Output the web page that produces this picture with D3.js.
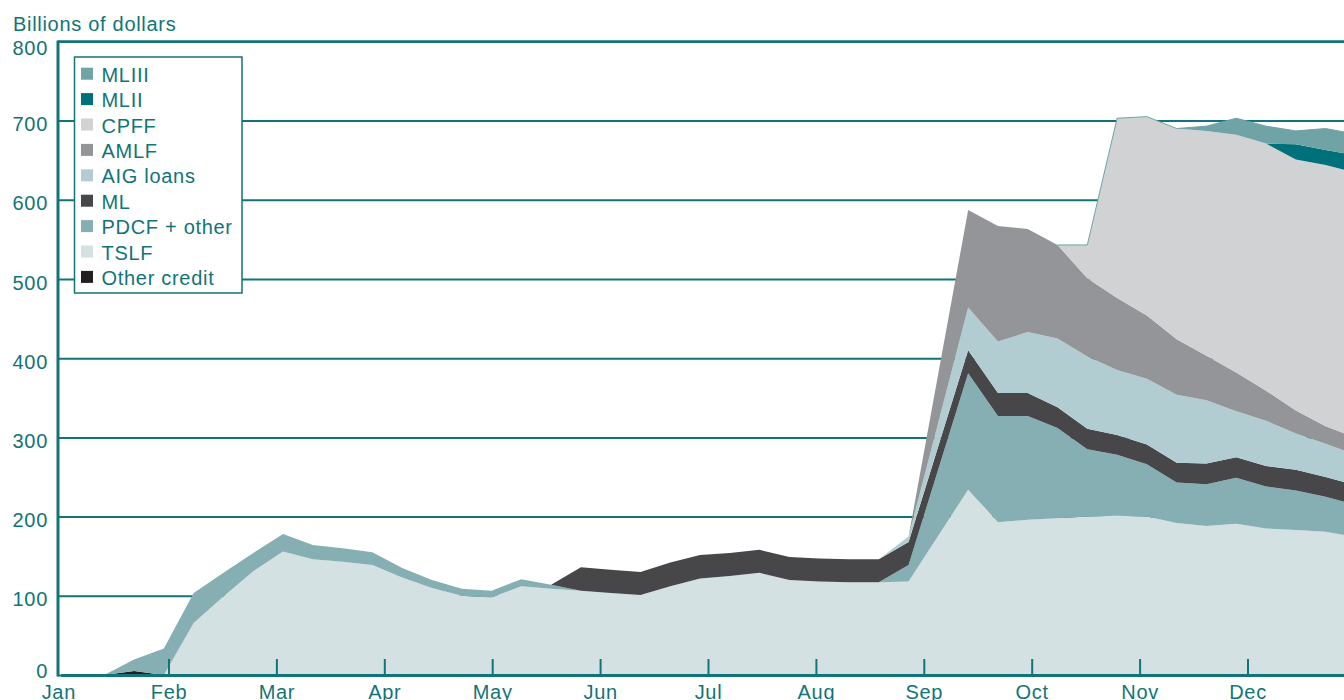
<!DOCTYPE html>
<html>
<head>
<meta charset="utf-8">
<script src="https://cdn.jsdelivr.net/npm/d3@7"></script>
<style>
  body { margin: 0; background: #fff; }
  svg { display: block; }
  text { font-family: "Liberation Sans", Arial, sans-serif; }
</style>
</head>
<body>
<div id="chart"></div>
<script>
// Month labels and y ticks
const months = ["Jan", "Feb", "Mar", "Apr", "May", "Jun", "Jul", "Aug", "Sep", "Oct", "Nov", "Dec"];
const yTicks = [0, 100, 200, 300, 400, 500, 600, 700, 800];

// Series, bottom of the stack first
const seriesNames = ["Other credit", "TSLF", "PDCF + other", "ML", "AIG loans", "AMLF", "CPFF", "MLII", "MLIII"];

const otherCredit = [0, 5, 0, 0, 0, 0, 0, 0, 0, 0,  0, 0, 0, 0, 0, 0, 0, 0, 0, 0,  0, 0, 0, 0, 0, 0, 0, 0, 0, 0,  0, 0, 0, 0, 0, 0, 0, 0, 0, 0,  0, 0, 0];
const tslf = [0, 0, 0, 65.5, 99, 131, 156, 146, 143, 139,  123, 110, 100, 98, 112, 109, 106.5, 103.5, 101, 112,  122, 125, 129, 120, 118, 117, 117, 118, 176, 234,  193, 196, 198, 200, 201, 200, 192, 188, 191, 185,  183, 181, 174];
const pdcf = [0, 14.5, 33.5, 38, 30, 23, 22, 18, 17, 16,  12, 10, 9, 8.5, 9, 5, 0, 0, 0, 0,  0, 0, 0, 0, 0, 0, 0, 21, 84, 147,  134, 131, 114, 85, 77, 66, 51, 53, 58, 53,  50, 44, 41];
const ml = [0, 0, 0, 0, 0, 0, 0, 0, 0, 0,  0, 0, 0, 0, 0, 0, 29.5, 29.5, 29, 30,  29.5, 29, 29, 29, 29, 29, 29, 29, 29, 29,  29, 29, 26, 26, 25, 25, 25, 26, 26, 26,  26, 25, 25];
const aig = [0, 0, 0, 0, 0, 0, 0, 0, 0, 0,  0, 0, 0, 0, 0, 0, 0, 0, 0, 0,  0, 0, 0, 0, 0, 0, 0, 7, 30, 54,  65, 77, 87, 91, 82, 83, 86, 80, 58, 57,  46, 42, 38];
const amlf = [0, 0, 0, 0, 0, 0, 0, 0, 0, 0,  0, 0, 0, 0, 0, 0, 0, 0, 0, 0,  0, 0, 0, 0, 0, 0, 0, 0, 62, 123,  146, 130, 118, 99, 91, 80, 70, 56, 49, 38,  29, 22, 22];
const cpff = [0, 0, 0, 0, 0, 0, 0, 0, 0, 0,  0, 0, 0, 0, 0, 0, 0, 0, 0, 0,  0, 0, 0, 0, 0, 0, 0, 0, 0, 0,  0, 0, 0, 42, 227, 251, 266, 284, 300, 312,  317, 330, 334];
const mlii = [0, 0, 0, 0, 0, 0, 0, 0, 0, 0,  0, 0, 0, 0, 0, 0, 0, 0, 0, 0,  0, 0, 0, 0, 0, 0, 0, 0, 0, 0,  0, 0, 0, 0, 0, 0, 0, 0, 0, 0,  19, 19, 22];
const mliii = [0, 0, 0, 0, 0, 0, 0, 0, 0, 0,  0, 0, 0, 0, 0, 0, 0, 0, 0, 0,  0, 0, 0, 0, 0, 0, 0, 0, 0, 0,  0, 0, 0, 0, 0, 0, 0, 6, 21, 22,  17, 27, 27];

const width = 1344, height = 700;
const margin = { top: 41.4, left: 58, baseline: 675 };
const teal = "#127479";
const colors = {
    "MLIII": "#6fa3a6",
    "MLII": "#00717a",
    "CPFF": "#d1d2d4",
    "AMLF": "#939598",
    "AIG loans": "#b2cdd1",
    "ML": "#474749",
    "PDCF + other": "#86afb3",
    "TSLF": "#d3e1e2",
    "Other credit": "#231f20"
};

const columns = [otherCredit, tslf, pdcf, ml, aig, amlf, cpff, mlii, mliii];
const nObs = tslf.length;
const table = d3.range(nObs).map(i => {
    const row = {};
    seriesNames.forEach((name, k) => row[name] = columns[k][i]);
    return row;
});

const svg = d3.select("#chart")
    .append("svg")
    .attr("width", width)
    .attr("height", height);

// months since Jan 1, equally spaced
const xMonth = d3.scaleLinear().domain([0, 12]).range([60.6, 1355.4]);
const x = d3.scaleLinear().domain([0, nObs - 1]).range([xMonth(0.405), xMonth(12)]);
const y = d3.scaleLinear().domain([0, 800]).range([margin.baseline, margin.top]);

// Gridlines + y labels
const yAxis = svg.append("g")
    .attr("transform", `translate(${margin.left},0)`)
    .call(d3.axisLeft(y).tickValues(yTicks).tickSize(-(width - margin.left)).tickPadding(10).tickFormat(d3.format("d")));
yAxis.select(".domain").remove();
yAxis.selectAll(".tick line").attr("stroke", teal).attr("stroke-width", 2);
yAxis.selectAll(".tick text")
    .attr("fill", teal)
    .attr("font-size", "20px")
    .attr("letter-spacing", "0.7px")
    .attr("dy", null)
    .attr("y", d => d === 0 ? 2 : d === 800 ? 13 : 10);

// Stacked areas
const stacked = d3.stack().keys(seriesNames)(table);
const area = d3.area()
    .x((d, i) => x(i))
    .y0(d => y(d[0]))
    .y1(d => y(d[1]));

svg.append("g")
    .selectAll("path")
    .data(stacked)
    .join("path")
    .attr("fill", d => colors[d.key])
    .attr("d", area);

// thin edge of the MLIII layer where it starts reporting
const topStart = cpff.findIndex(v => v > 0) - 1;
svg.append("path")
    .datum(stacked[stacked.length - 1])
    .attr("fill", "none")
    .attr("stroke", colors["MLIII"])
    .attr("stroke-width", 1)
    .attr("d", d3.line().defined((d, i) => i >= topStart).x((d, i) => x(i)).y(d => y(d[1])));

// X axis
const xAxis = svg.append("g")
    .attr("transform", `translate(0,${margin.baseline})`)
    .call(d3.axisBottom(xMonth).tickValues(d3.range(12)).tickSize(-16).tickSizeOuter(0).tickFormat(i => months[i]));
xAxis.select(".domain").attr("stroke", teal).attr("stroke-width", 3);
xAxis.selectAll(".tick line")
    .attr("stroke", teal)
    .attr("stroke-width", 2)
    .attr("display", d => d === 0 ? "none" : null);
xAxis.selectAll(".tick text")
    .attr("fill", teal)
    .attr("font-size", "20px")
    .attr("letter-spacing", "0.7px")
    .attr("dy", null)
    .attr("x", d => d === 0 ? -2.3 : 0)
    .attr("y", 24);

// Left axis + top border
svg.append("line")
    .attr("x1", margin.left).attr("x2", margin.left)
    .attr("y1", y(800) - 1).attr("y2", margin.baseline + 1.5)
    .attr("stroke", teal).attr("stroke-width", 3);
svg.append("line")
    .attr("x1", margin.left).attr("x2", width)
    .attr("y1", y(800)).attr("y2", y(800))
    .attr("stroke", teal).attr("stroke-width", 2.5);

// Unit label
svg.append("text")
    .attr("x", 13)
    .attr("y", 31)
    .attr("fill", teal)
    .attr("font-size", "20px")
    .attr("letter-spacing", "0.7px")
    .text("Billions of dollars");

// Legend
const legend = svg.append("g");
legend.append("rect")
    .attr("x", 74.5).attr("y", 57)
    .attr("width", 167.5).attr("height", 236)
    .attr("fill", "white")
    .attr("stroke", teal)
    .attr("stroke-width", 1.5);

const legendNames = seriesNames.slice().reverse();
legendNames.forEach((name, i) => {
    legend.append("rect")
        .attr("x", 81)
        .attr("y", 67.7 + i * 25.4)
        .attr("width", 12)
        .attr("height", 12)
        .attr("fill", colors[name]);
    legend.append("text")
        .attr("x", 101.5)
        .attr("y", 81.7 + i * 25.4)
        .attr("fill", teal)
        .attr("font-size", "20px")
        .attr("letter-spacing", "0.7px")
        .text(name);
});
</script>
</body>
</html>
